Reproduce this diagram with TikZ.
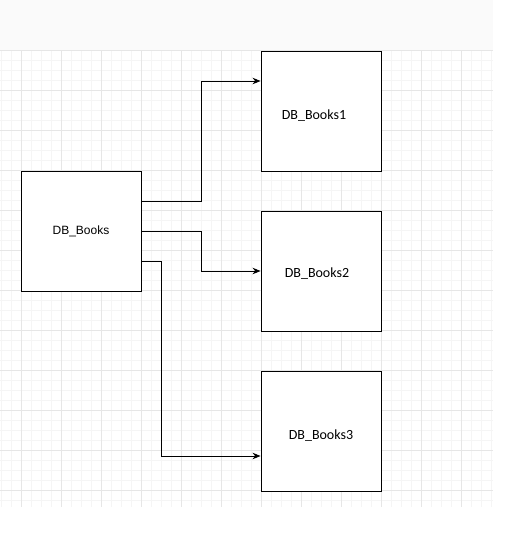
\documentclass[tikz,border=0pt]{standalone}
\usepackage{fontspec}
\setmainfont{Liberation Sans}
\newfontfamily\boxfont{Carlito}
\usetikzlibrary{arrows.meta}
\definecolor{gridminor}{HTML}{F5F5F5}
\definecolor{gridmajor}{HTML}{E6E6E6}
\definecolor{topstrip}{HTML}{FAFAFA}
\tikzset{
    db-box/.style = {draw=black, fill=white, line width=0.9pt, rectangle, minimum width=120pt, minimum height=120pt, inner sep=0pt},
    db-label/.style = {font=\boxfont\fontsize{14}{16}\selectfont},
    db-link/.style = {draw=black, line width=1pt, -{Stealth[length=8pt,width=6.5pt]}},
}
\begin{document}
\begin{tikzpicture}[x=1pt,y=-1pt]
\useasboundingbox (0,0) rectangle (507,550);
% canvas
\fill[topstrip] (0,0) rectangle (493,50);
\foreach \gx in {1,11,...,491} \draw[gridminor, line width=0.6pt] (\gx,50) -- (\gx,507);
\foreach \gy in {60,70,...,500} \draw[gridminor, line width=0.6pt] (0,\gy) -- (493,\gy);
\foreach \gx in {21,61,...,461} \draw[gridmajor, line width=0.8pt] (\gx,50) -- (\gx,507);
\foreach \gy in {90,130,...,490} \draw[gridmajor, line width=0.8pt] (0,\gy) -- (493,\gy);
\draw[gridmajor, line width=1pt] (0,50) -- (493,50);

% tables
\node[db-box, label={[font=\fontsize{12}{14}\selectfont]center:DB\_Books}] (books) at (81,231) {};
\node[db-box, label={[db-label, xshift=-7pt, yshift=-5pt]center:DB\_Books1}] (books1) at (321,111) {};
\node[db-box, label={[db-label, xshift=-4pt, yshift=-3pt]center:DB\_Books2}] (books2) at (321,271) {};
\node[db-box, label={[db-label, yshift=-5pt]center:DB\_Books3}] (books3) at (321,431) {};

% links
\draw[db-link] ([yshift=30pt]books.east) -- ++(60,0) |- ([yshift=30pt]books1.west);
\draw[db-link] (books.east) -- ++(60,0) |- (books2.west);
\draw[db-link] ([yshift=-30pt]books.east) -- ++(20,0) |- ([yshift=-25pt]books3.west);
\end{tikzpicture}
\end{document}
